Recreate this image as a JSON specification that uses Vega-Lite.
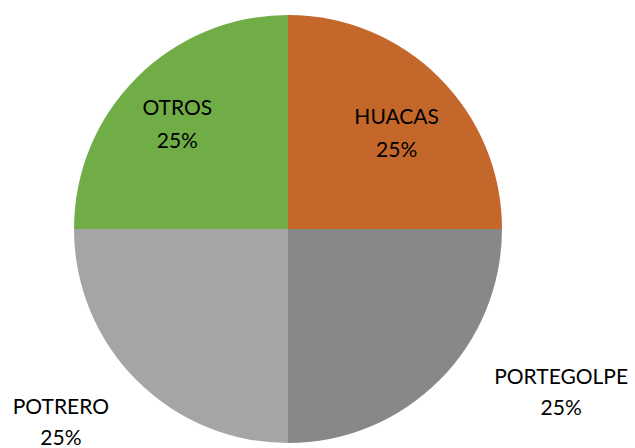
{
  "$schema": "https://vega.github.io/schema/vega-lite/v6.json",
  "width": 576,
  "height": 438,
  "autosize": "none",
  "padding": {"left": 0, "right": 59, "top": 10, "bottom": 0},
  "background": "white",
  "config": {"view": {"stroke": null}},
  "data": {
    "values": [
      {"name": "HUACAS", "value": 25, "i": 1},
      {"name": "PORTEGOLPE", "value": 25, "i": 2},
      {"name": "POTRERO", "value": 25, "i": 3},
      {"name": "OTROS", "value": 25, "i": 4}
    ]
  },
  "transform": [
    {"joinaggregate": [{"op": "sum", "field": "value", "as": "total"}]},
    {"calculate": "datum.name + '\\n' + format(datum.value / datum.total, '.0%')", "as": "label"},
    {"calculate": "datum.name == 'HUACAS' ? datum.label : ''", "as": "hLabel"},
    {"calculate": "datum.name == 'OTROS' ? datum.label : ''", "as": "oLabel"},
    {"calculate": "datum.name == 'PORTEGOLPE' ? datum.label : ''", "as": "pLabel"},
    {"calculate": "datum.name == 'POTRERO' ? datum.label : ''", "as": "tLabel"}
  ],
  "encoding": {
    "theta": {"field": "value", "type": "quantitative", "stack": true},
    "order": {"field": "i", "type": "quantitative"}
  },
  "layer": [
    {
      "mark": {"type": "arc", "outerRadius": 214},
      "encoding": {
        "color": {
          "field": "name",
          "type": "nominal",
          "scale": {
            "domain": ["HUACAS", "PORTEGOLPE", "POTRERO", "OTROS"],
            "range": ["#C4672B", "#888888", "#A5A5A5", "#70AD47"]
          },
          "legend": null
        }
      }
    },
    {
      "mark": {"type": "text", "radius": 148, "font": "Lato", "fontSize": 21, "lineBreak": "\n", "lineHeight": 33, "color": "#000000", "dx": 4, "dy": -6},
      "encoding": {"text": {"field": "hLabel"}}
    },
    {
      "mark": {"type": "text", "radius": 148, "font": "Lato", "fontSize": 21, "lineBreak": "\n", "lineHeight": 33, "color": "#000000", "dx": -6, "dy": -15},
      "encoding": {"text": {"field": "oLabel"}}
    },
    {
      "mark": {"type": "text", "radius": 300, "font": "Lato", "fontSize": 21, "lineBreak": "\n", "lineHeight": 31, "color": "#000000", "dx": 61, "dy": -63},
      "encoding": {"text": {"field": "pLabel"}}
    },
    {
      "mark": {"type": "text", "radius": 300, "font": "Lato", "fontSize": 21, "lineBreak": "\n", "lineHeight": 31, "color": "#000000", "dx": -15, "dy": -33},
      "encoding": {"text": {"field": "tLabel"}}
    }
  ]
}
